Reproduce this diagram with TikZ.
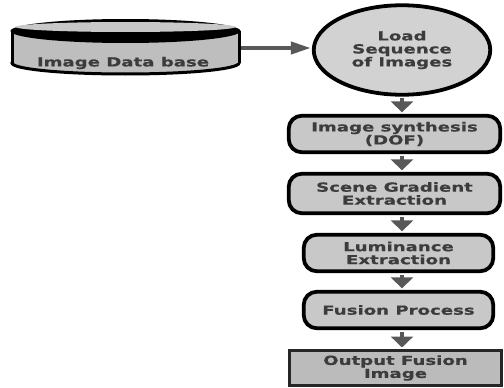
\documentclass[tikz,border=0pt]{standalone}
\usepackage{fontspec}
\newfontfamily\flowfont[FakeStretch=1.45, FakeBold=0.6]{DejaVu Sans}
\usepackage{tikz}
\usetikzlibrary{arrows.meta, shapes.geometric}

\definecolor{boxgray}{HTML}{C8C8C8}
\definecolor{ovalgray}{HTML}{D2D2D2}
\definecolor{dbgray}{HTML}{BEBEBE}
\definecolor{outgray}{HTML}{BBBBBB}
\definecolor{flowgray}{HTML}{585858}
\definecolor{inkgray}{HTML}{3C3C3C}

\begin{document}
\begin{tikzpicture}[x=1pt, y=-1pt,
    every node/.style={font=\flowfont\bfseries\fontsize{12.5pt}{13pt}\selectfont,
        text=inkgray, align=center, inner sep=0pt},
    stage/.style={draw=black, line width=3.8pt, fill=boxgray, rounded corners=13pt},
    outbox/.style={draw=black!85, line width=3pt, fill=outgray},
    vflow/.style={draw=flowgray, line width=4pt, shorten <=1.5pt, shorten >=1.5pt,
        -{Triangle[length=11pt, width=22pt]}},
    hflow/.style={draw=flowgray, line width=4pt, shorten >=1pt,
        -{Triangle[length=20pt, width=12pt]}}]

        \useasboundingbox (0,0) rectangle (504,388);

        % database drum
        \filldraw[fill=dbgray, draw=black, line width=3pt] (125.5,63) ellipse [x radius=113.5, y radius=11];
        \fill[dbgray] (12,31) rectangle (239,63);
        \draw[black, line width=3pt] (12,31) -- (12,63) (239,31) -- (239,63);
        \fill[black] (125.5,31) ellipse [x radius=115, y radius=12];
        \fill[boxgray] (125.5,27) ellipse [x radius=110, y radius=5];
        \node (db) at (123,63) {Image Data base};
        \coordinate (dbout) at (241,48);

        \node[ellipse, draw=black, line width=3.8pt, fill=ovalgray,
            minimum width=176.5pt, minimum height=89.5pt] (load) at (402,50)
            {Load\\Sequence\\of Images};

        \node[stage, minimum width=211.5pt, minimum height=36.5pt] (synth) at (394.5,134)
            {Image synthesis\\(DOF)};
        \node[stage, minimum width=211.5pt, minimum height=39.5pt] (grad) at (394.5,193.5)
            {Scene Gradient\\Extraction};
        \node[stage, minimum width=189.5pt, minimum height=36.5pt] (lum) at (398.5,253)
            {Luminance\\Extraction};
        \node[stage, minimum width=189.5pt, minimum height=36.5pt] (fuse) at (398.5,310)
            {Fusion Process};
        \node[outbox, minimum width=212pt, minimum height=35pt] (out) at (395.5,368)
            {Output Fusion\\Image};

        \draw[hflow] (dbout) -- (dbout -| load.west);
        \foreach \a/\b in {load/synth, synth/grad, grad/lum, lum/fuse, fuse/out}
            \draw[vflow] (load.south |- \a.south) -- (load.south |- \b.north);

\end{tikzpicture}
\end{document}
